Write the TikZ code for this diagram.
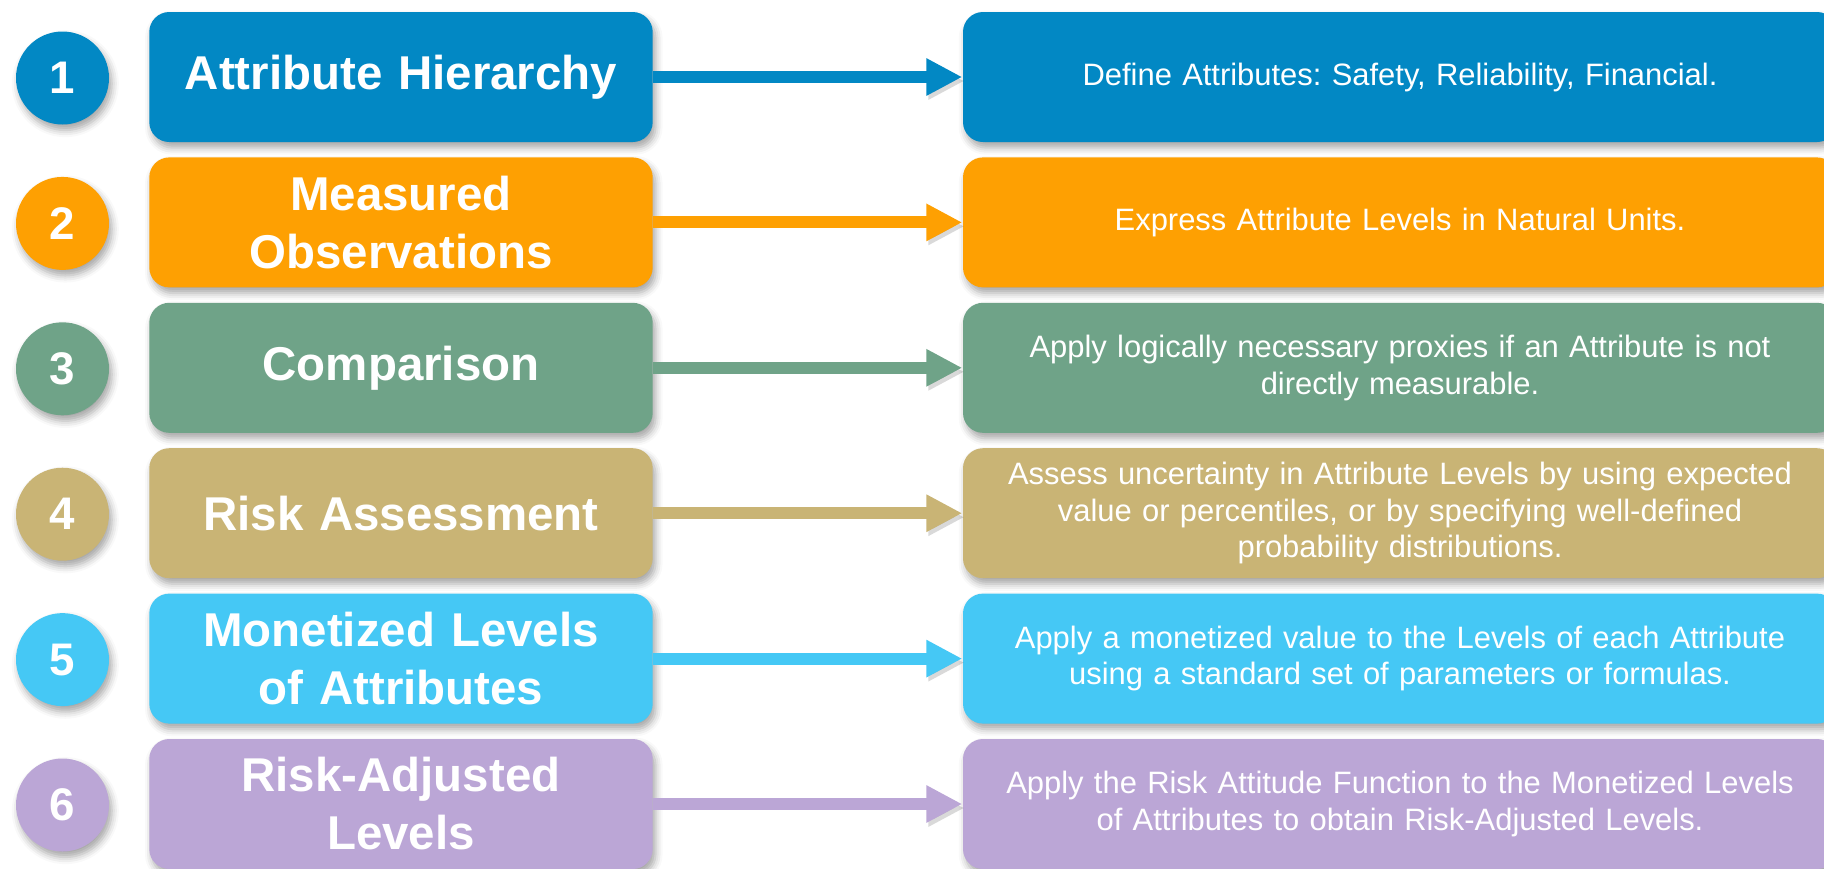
\documentclass[tikz,border=0pt]{standalone}
\usepackage{fontspec}
\setmainfont{Liberation Sans}
\usepackage{tikz}
\usepackage{xcolor}
\usetikzlibrary{arrows.meta,positioning,shadows.blur}
\frenchspacing

\definecolor{c1}{RGB}{2,136,196}
\definecolor{c2}{RGB}{254,160,2}
\definecolor{c3}{RGB}{111,163,136}
\definecolor{c4}{RGB}{201,180,117}
\definecolor{c5}{RGB}{69,200,245}
\definecolor{c6}{RGB}{187,166,214}

\begin{document}
\begin{tikzpicture}[
    shade/.style={blur shadow={shadow xshift=0.8pt, shadow yshift=-1.6pt, shadow blur radius=2pt, shadow opacity=35}},
    numcircle/.style={circle, minimum size=0.93cm, inner sep=0pt, text=white, shade, font=\fontsize{13}{15}\selectfont\bfseries},
    stagebox/.style={rectangle, rounded corners=0.2cm, minimum width=5cm, minimum height=1.3cm, text width=4.8cm, align=center, text=white, shade, font=\fontsize{13.5}{16.5}\selectfont\bfseries},
    descbox/.style={rectangle, rounded corners=0.2cm, minimum width=8.74cm, minimum height=1.3cm, text width=8.4cm, align=center, text=white, shade, font=\fontsize{8.8}{10.4}\selectfont},
    link/.style={line width=0.12cm, -{Triangle[length=0.36cm, width=0.35cm]}, preaction={draw=black, opacity=0.15, transform canvas={shift={(0.02,-0.04)}}}}
]
\useasboundingbox (0,0) rectangle (18.24,-8.68);

% step numbers
\node[numcircle, fill=c1] (num1) at (0.625,-0.78) {1};
\node[numcircle, fill=c2] (num2) at (0.625,-2.234) {2};
\node[numcircle, fill=c3] (num3) at (0.625,-3.688) {3};
\node[numcircle, fill=c4] (num4) at (0.625,-5.142) {4};
\node[numcircle, fill=c5] (num5) at (0.625,-6.596) {5};
\node[numcircle, fill=c6] (num6) at (0.625,-8.05) {6};

% stages
\node[stagebox, fill=c1] (stage1) at (4.01,-0.77) {Attribute Hierarchy};
\node[stagebox, fill=c2] (stage2) at (4.01,-2.224) {Measured\\Observations};
\node[stagebox, fill=c3] (stage3) at (4.01,-3.678) {Comparison};
\node[stagebox, fill=c4] (stage4) at (4.01,-5.132) {Risk Assessment};
\node[stagebox, fill=c5] (stage5) at (4.01,-6.586) {Monetized Levels\\of Attributes};
\node[stagebox, fill=c6] (stage6) at (4.01,-8.04) {Risk-Adjusted\\Levels};

% descriptions
\node[descbox, fill=c1] (desc1) at (14.0,-0.77) {Define Attributes: Safety, Reliability, Financial.};
\node[descbox, fill=c2] (desc2) at (14.0,-2.224) {Express Attribute Levels in Natural Units.};
\node[descbox, fill=c3] (desc3) at (14.0,-3.678) {Apply logically necessary proxies if an Attribute is not\\directly measurable.};
\node[descbox, fill=c4] (desc4) at (14.0,-5.132) {Assess uncertainty in Attribute Levels by using expected\\value or percentiles, or by specifying well-defined\\probability distributions.};
\node[descbox, fill=c5] (desc5) at (14.0,-6.586) {Apply a monetized value to the Levels of each Attribute\\using a standard set of parameters or formulas.};
\node[descbox, fill=c6] (desc6) at (14.0,-8.04) {Apply the Risk Attitude Function to the Monetized Levels\\of Attributes to obtain Risk-Adjusted Levels.};

% arrows
\draw[link, c1] (stage1) -- (desc1);
\draw[link, c2] (stage2) -- (desc2);
\draw[link, c3] (stage3) -- (desc3);
\draw[link, c4] (stage4) -- (desc4);
\draw[link, c5] (stage5) -- (desc5);
\draw[link, c6] (stage6) -- (desc6);

\end{tikzpicture}
\end{document}
